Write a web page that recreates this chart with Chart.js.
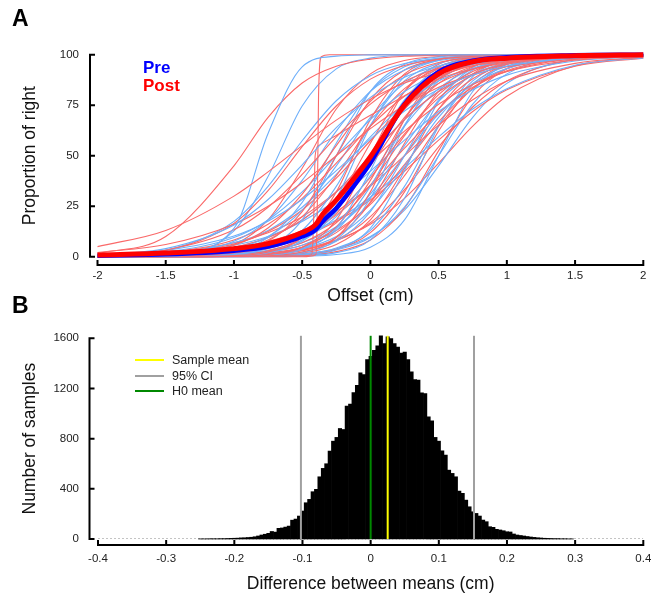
<!DOCTYPE html>
<html>
<head>
<meta charset="utf-8">
<script src="https://cdn.jsdelivr.net/npm/chart.js@4.4.1/dist/chart.umd.min.js"></script>
<style>
  body { margin: 0; background: #fff; }
  #wrap { position: relative; width: 651px; height: 596px; font-family: 'Liberation Sans', Arial, Helvetica, sans-serif; }
  canvas { position: absolute; left: 0; }
  .txt { position: absolute; line-height: 1; white-space: nowrap; }
  .swatch { position: absolute; height: 2px; width: 29px; left: 135px; }
</style>
</head>
<body>
<div id="wrap">
  <canvas id="chartA" width="651" height="308" style="top:0"></canvas>
  <canvas id="chartB" width="651" height="288" style="top:308px"></canvas>

  <div class="txt" style="left:12px; top:6.5px; font-size:23px; font-weight:bold; color:#000">A</div>
  <div class="txt" style="left:12px; top:294px; font-size:23px; font-weight:bold; color:#000">B</div>

  <div class="txt" style="left:143px; top:59px; font-size:17px; font-weight:bold; color:#0000ff">Pre</div>
  <div class="txt" style="left:143px; top:77px; font-size:17px; font-weight:bold; color:#ff0000">Post</div>

  <div class="swatch" style="top:359px; background:#ffff00"></div>
  <div class="swatch" style="top:375px; background:#a0a0a0"></div>
  <div class="swatch" style="top:390px; background:#008800"></div>
  <div class="txt" style="left:172px; top:354px; font-size:12.5px; color:#222">Sample mean</div>
  <div class="txt" style="left:172px; top:369.5px; font-size:12.5px; color:#222">95% CI</div>
  <div class="txt" style="left:172px; top:385px; font-size:12.5px; color:#222">H0 mean</div>
</div>

<script>
// --- Panel A: psychometric curves, values read at these offsets (cm) ---
const xGrid = [-2, -1.5, -1, -0.75, -0.5, -0.25, 0, 0.25, 0.5, 0.75, 1, 1.5, 2];

// proportion of "right" responses (%) for each participant, pre
const preCurves = [
  [0, 0.2, 14, 61, 94, 99.3, 99.9, 100, 100, 100, 100, 100, 100],
  [0.9, 4, 15.7, 28.3, 45.5, 63.9, 78.9, 88.8, 94.4, 97.3, 98.7, 99.7, 99.9],
  [0.9, 3.1, 10.2, 17.5, 28.3, 42.6, 58.2, 72.1, 82.9, 90, 94.4, 98.3, 99.5],
  [0.5, 3.2, 17.5, 34.8, 57.4, 77.2, 89.6, 95.6, 98.2, 99.3, 99.7, 100, 100],
  [0, 0.7, 12.8, 39.7, 74.6, 93, 98.3, 99.6, 99.9, 100, 100, 100, 100],
  [0.2, 1.1, 7.6, 18.2, 37.8, 62.2, 81.8, 92.4, 97.1, 98.9, 99.6, 99.9, 100],
  [0, 0.3, 2.9, 9.5, 26.9, 56.2, 81.8, 94, 98.2, 99.5, 99.9, 100, 100],
  [0.5, 2.3, 9.5, 18.2, 32.1, 50, 67.9, 81.8, 90.5, 95.3, 97.7, 99.5, 99.9],
  [0, 0.1, 1.1, 4.7, 18.2, 50, 81.8, 95.3, 98.9, 99.8, 100, 100, 100],
  [0.1, 0.6, 3.9, 10, 23.1, 45, 69, 85.8, 94.3, 97.8, 99.2, 99.9, 100],
  [0, 0.1, 1.2, 4.3, 13, 34.8, 65.2, 87, 95.7, 98.8, 99.6, 100, 100],
  [0.4, 1.6, 6.9, 13, 24.5, 40.7, 59.3, 75.5, 87, 93.1, 96.8, 99.3, 99.8],
  [0, 0, 0.5, 2, 8.3, 28.9, 64.6, 89.1, 97.3, 99.4, 99.9, 100, 100],
  [0, 0.3, 1.8, 4.7, 11.9, 26.9, 50, 73.1, 88.1, 95.3, 98.2, 99.8, 100],
  [0, 0.1, 0.7, 2.3, 7.6, 22.3, 50, 77.7, 92.4, 97.7, 99.3, 99.9, 100],
  [0.3, 1.1, 4.7, 9.5, 18.2, 32.1, 50, 67.9, 81.8, 90.5, 95.3, 98.9, 99.8],
  [0, 0, 0.2, 0.8, 3.6, 14.2, 42.6, 76.9, 93.7, 98.5, 99.7, 100, 100],
  [0, 0.2, 1.2, 3.2, 8.3, 19.8, 40.1, 64.6, 83.2, 93.1, 97.3, 99.6, 100],
  [0, 0, 0.4, 1.2, 4.3, 13, 34.8, 65.2, 87, 95.7, 98.8, 99.9, 100],
  [0.5, 1.7, 5.7, 10, 17.4, 28.1, 42.3, 57.7, 71.9, 82.6, 89.9, 96.9, 99.1],
  [0, 0, 0.1, 0.5, 2, 8.3, 28.9, 64.6, 89.1, 97.3, 99.4, 100, 100],
  [0, 0.1, 0.8, 2.2, 5.7, 14.2, 31, 55, 76.9, 90, 96.1, 99.5, 99.9],
  [0, 0, 0.2, 0.7, 2.3, 7.6, 22.3, 50, 77.7, 92.4, 97.7, 99.8, 100],
  [0, 0.2, 1.2, 2.9, 6.9, 14.8, 29.4, 50, 70.6, 85.2, 93.1, 98.8, 99.8],
  [0, 0, 0, 0.2, 0.8, 3.6, 14.2, 42.6, 76.9, 93.7, 98.5, 99.9, 100],
  [0, 0.1, 0.6, 1.5, 3.9, 10, 23.1, 45, 69, 85.8, 94.3, 99.2, 99.9],
  [0, 0, 0.1, 0.4, 1.2, 4.3, 13, 34.8, 65.2, 87, 95.7, 99.6, 100],
  [0.3, 1, 3.3, 6, 10.9, 18.2, 29.4, 43.8, 59.3, 73.1, 83.2, 94.8, 98.4],
  [0, 0, 0, 0.1, 0.5, 2, 8.3, 28.9, 64.6, 89.1, 97.3, 99.9, 100],
  [0, 0, 0.1, 0.4, 1.1, 3.3, 9.5, 24.5, 50, 75.5, 90.5, 98.9, 99.9],
  [0, 0, 0, 0, 0.3, 1.1, 4.7, 18.2, 50, 81.8, 95.3, 99.8, 100],
  [0, 0, 0.2, 0.6, 1.5, 3.9, 10, 23.1, 45, 69, 85.8, 97.8, 99.7]
];

// same, post
const postCurves = [
  [5, 13, 30, 42, 55, 67.6, 78, 86, 91, 94.5, 96.6, 98.8, 99.6],
  [1.5, 10, 45, 69, 86, 94.3, 97.8, 99.2, 99.7, 99.9, 100, 100, 100],
  [0.6, 3.2, 16.5, 32.7, 54.5, 74.6, 87.9, 94.7, 97.8, 99.1, 99.6, 99.9, 100],
  [2.1, 6, 16.1, 25, 36.6, 50, 63.4, 75, 83.9, 90, 94, 97.9, 99.3],
  [0.8, 3.3, 13.3, 24.5, 40.7, 59.3, 75.5, 86.7, 93.3, 96.7, 98.4, 99.6, 99.9],
  [0.1, 0.8, 5.7, 14.2, 31, 55, 76.9, 90, 96.1, 98.5, 99.5, 99.9, 100],
  [0, 0.2, 2.3, 7.6, 22.3, 50, 77.7, 92.4, 97.7, 99.3, 99.8, 100, 100],
  [0.5, 2, 8.3, 16.1, 28.9, 46.3, 64.6, 79.4, 89.1, 94.5, 97.3, 99.4, 99.9],
  [0.1, 0.5, 3.2, 8.3, 19.8, 40.1, 64.6, 83.2, 93.1, 97.3, 99, 99.9, 100],
  [0, 0, 0.5, 2.3, 9.5, 32.1, 67.9, 90.5, 97.7, 99.5, 99.9, 100, 100],
  [0.3, 1.5, 6.3, 12.5, 23.1, 38.9, 57.4, 74.1, 85.8, 92.8, 96.4, 99.2, 99.8],
  [0, 0.1, 0.9, 2.9, 9.5, 26.9, 56.2, 81.8, 94, 98.2, 99.5, 100, 100],
  [0, 0.3, 1.8, 4.7, 11.9, 26.9, 50, 73.1, 88.1, 95.3, 98.2, 99.8, 100],
  [0.3, 1.1, 4.7, 9.5, 18.2, 32.1, 50, 67.9, 81.8, 90.5, 95.3, 98.9, 99.8],
  [0, 0, 0.3, 1.1, 4.7, 18.2, 50, 81.8, 95.3, 98.9, 99.8, 100, 100],
  [0, 0.2, 1.5, 3.9, 10, 23.1, 45, 69, 85.8, 94.3, 97.8, 99.7, 100],
  [0.6, 2, 6.9, 11.9, 19.8, 32.1, 46.9, 62.2, 75.5, 85.2, 91.7, 97.3, 99.3],
  [0, 0, 0.4, 1.4, 4.7, 14.8, 37.8, 67.9, 88.1, 96.3, 98.9, 99.9, 100],
  [0.1, 0.3, 2, 4.3, 10, 21.4, 39.2, 60.8, 78.6, 90, 95.7, 99.2, 99.9],
  [0, 0, 0.1, 0.5, 2.3, 9.5, 32.1, 67.9, 90.5, 97.7, 99.5, 100, 100],
  [0, 0.1, 1, 2.7, 6.9, 16.8, 35.4, 59.9, 80.2, 91.7, 96.8, 99.6, 99.9],
  [0.1, 0.6, 2.7, 5.5, 10.9, 20.6, 35.4, 53.7, 71.1, 83.9, 91.7, 98, 99.6],
  [0, 0, 0.3, 0.9, 2.9, 9.5, 26.9, 56.2, 81.8, 94, 98.2, 99.9, 100],
  [0, 0.1, 0.7, 1.8, 4.7, 11.9, 26.9, 50, 73.1, 88.1, 95.3, 99.3, 99.9],
  [0.4, 1.2, 4.3, 7.6, 13, 22.3, 34.9, 50, 65.1, 77.7, 87, 95.7, 98.8],
  [0, 0, 0.2, 0.5, 1.8, 6, 18.2, 43.8, 73.1, 90.5, 97.1, 99.8, 100],
  [0, 0.2, 1, 2.4, 5.7, 13, 25.9, 45.6, 66.8, 83.2, 92.1, 98.5, 99.7],
  [0, 0.1, 0.5, 1.2, 3.2, 8.3, 19.8, 40.1, 64.6, 83.2, 93.1, 99, 99.9],
  [0.3, 0.9, 3.2, 5.7, 10, 17.4, 28.1, 42.3, 57.7, 71.9, 82.6, 94.3, 98.3],
  [0, 0, 0.1, 0.3, 1.1, 3.7, 11.9, 32.1, 62.2, 85.2, 95.3, 99.6, 100],
  [0, 0.1, 0.6, 1.5, 3.6, 7.9, 16.8, 33.2, 54.4, 74.1, 87, 97.6, 99.6],
  [0, 0, 0.1, 0.2, 0.7, 2.5, 8.3, 24, 52.5, 79.4, 93.1, 99.4, 100],
  [0, 0.5, 6, 18.2, 43.8, 73.1, 90.5, 97.1, 99.1, 99.8, 100, 100, 100],
  [0.1, 0.2, 1, 2, 4.1, 8.3, 16.1, 28.9, 46.3, 64.6, 79.4, 94.5, 98.7]
];

// two post curves with a near-vertical step need their own offsets
const postStepX = [-2, -0.5, -0.4, -0.39, -0.38, -0.36, -0.3, 0.5, 2];
const postStepY = [0, 0, 1, 20, 80, 99, 100, 100, 100];
const postStep2X = [-2, -0.5, -0.43, -0.415, -0.405, -0.38, -0.25, 0, 0.5, 1, 1.5, 2];
const postStep2Y = [0, 0.5, 1, 20, 50, 55, 60, 70, 88, 96, 99, 100];

// group means
const meanX = [-2, -1.5, -1, -0.75, -0.5, -0.4, -0.35, -0.25, -0.1, 0, 0.25, 0.5, 0.75, 1, 1.5, 2];
const preMean = [0.5, 1.2, 3, 5, 10, 13.5, 17.5, 24, 37, 46.5, 75.5, 91.5, 97, 98.7, 99.7, 100];
const postMean = [0.8, 1.8, 4, 6.5, 12, 16, 21, 28, 40.5, 49.5, 75, 90.5, 96.5, 98.3, 99.5, 100];

// --- Panel B: bootstrap distribution of the difference between means ---
const diffBinStart = -0.25;   // centre of the first bin (cm)
const diffBinWidth = 0.005;
const diffCounts = [
  1, 1, 1, 2, 2, 2, 3, 3, 4, 5,
  6, 7, 9, 10, 12, 14, 18, 24, 32, 38,
  45, 60, 55, 85, 88, 95, 103, 150, 159, 183,
  223, 289, 316, 377, 396, 496, 563, 600, 701, 780,
  810, 881, 873, 1059, 1075, 1168, 1226, 1324, 1311, 1431,
  1457, 1505, 1539, 1619, 1558, 1611, 1598, 1558, 1531, 1483,
  1491, 1431, 1332, 1271, 1266, 1165, 1160, 974, 942, 810,
  780, 703, 669, 549, 523, 496, 382, 364, 310, 257,
  217, 204, 183, 151, 138, 98, 93, 77, 72, 66,
  58, 56, 40, 32, 28, 24, 20, 16, 13, 10,
  8, 6, 5, 4, 3, 3, 2, 2, 1, 1
];
const sampleMean = 0.025;
const ciLow = -0.1023;
const ciHigh = 0.1516;
const h0Mean = 0;
const markerTop = 1620;

// --- look ---
const FONT = "'Liberation Sans', Arial, Helvetica, sans-serif";
Chart.defaults.font.family = FONT;
Chart.defaults.color = '#222';
const preColor = 'rgb(110,175,250)';
const postColor = 'rgb(250,105,105)';

// axes drawn detached from the plot, ticks pointing inwards
const detachedAxes = {
  id: 'detachedAxes',
  afterDraw(chart, args, opts) {
    const { ctx, chartArea: area } = chart;
    const xs = chart.scales.x, ys = chart.scales.y;
    const axisX = area.left - opts.gapY;
    const axisY = area.bottom + opts.gapX;
    ctx.save();
    ctx.strokeStyle = '#000';
    ctx.lineWidth = 2;
    ctx.beginPath();
    const yTop = ys.getPixelForValue(ys.max), yBot = ys.getPixelForValue(ys.min);
    ctx.moveTo(axisX, yTop - 1); ctx.lineTo(axisX, yBot + 1);
    ys.ticks.forEach(t => {
      const p = ys.getPixelForValue(t.value);
      ctx.moveTo(axisX, p); ctx.lineTo(axisX + 5, p);
    });
    const xL = xs.getPixelForValue(xs.min), xR = xs.getPixelForValue(xs.max);
    ctx.moveTo(xL - 1, axisY); ctx.lineTo(xR + 1, axisY);
    xs.ticks.forEach(t => {
      const p = xs.getPixelForValue(t.value);
      ctx.moveTo(p, axisY); ctx.lineTo(p, axisY - 5);
    });
    ctx.stroke();
    ctx.restore();
  }
};

function toPoints(xs, ys) { return xs.map((x, i) => ({ x: x, y: ys[i] })); }

function curveSet(points, color, width) {
  return {
    type: 'line', data: points, borderColor: color, borderWidth: width,
    pointRadius: 0, fill: false, cubicInterpolationMode: 'monotone', clip: false
  };
}

const tickFont = { size: 11.5 };
const titleFont = { size: 17.5 };
const plainNumber = v => String(parseFloat(Number(v).toFixed(3)));

// ---------- Chart A ----------
const setsA = [
  curveSet(toPoints(meanX, postMean), '#ff0000', 5),
  curveSet(toPoints(meanX, preMean), '#0000ff', 4.5)
];
const nCurves = Math.max(preCurves.length, postCurves.length);
for (let i = 0; i < nCurves; i++) {
  if (postCurves[i]) setsA.push(curveSet(toPoints(xGrid, postCurves[i]), postColor, 1.1));
  if (preCurves[i]) setsA.push(curveSet(toPoints(xGrid, preCurves[i]), preColor, 1.1));
}
setsA.splice(6, 0, curveSet(toPoints(postStepX, postStepY), postColor, 1.1));
setsA.splice(20, 0, curveSet(toPoints(postStep2X, postStep2Y), postColor, 1.1));

new Chart(document.getElementById('chartA'), {
  type: 'line',
  data: { datasets: setsA },
  options: {
    responsive: false, animation: false, events: [],
    layout: { padding: { left: 0, right: 7.7, top: 54.7, bottom: 0 } },
    plugins: { legend: { display: false }, tooltip: { enabled: false }, detachedAxes: { gapX: 8.3, gapY: 7.5 } },
    scales: {
      x: {
        type: 'linear', min: -2, max: 2,
        ticks: { stepSize: 0.5, padding: 12, font: tickFont, maxRotation: 0, autoSkip: false, callback: plainNumber },
        grid: { display: false, drawTicks: false }, border: { display: false },
        title: { display: true, text: 'Offset (cm)', font: titleFont, color: '#111', padding: { top: 0, bottom: 1.5 } },
        afterFit(s) { s.height = 51.3; s.paddingLeft = 0; s.paddingRight = 0; }
      },
      y: {
        min: 0, max: 100,
        ticks: { stepSize: 25, padding: 18.5, font: tickFont },
        grid: { display: false, drawTicks: false }, border: { display: false },
        title: { display: true, text: 'Proportion of right', font: titleFont, color: '#111', padding: { top: 20, bottom: 0 } },
        afterFit(s) { s.width = 97.5; s.paddingTop = 0; s.paddingBottom = 0; }
      }
    }
  },
  plugins: [detachedAxes]
});

// ---------- Chart B ----------
const bars = diffCounts.map((c, i) => ({ x: Math.round((diffBinStart + i * diffBinWidth) * 1000) / 1000, y: c }));

function marker(x, color) {
  return {
    type: 'line', data: [{ x: x, y: 0 }, { x: x, y: markerTop }],
    borderColor: color, borderWidth: 2, pointRadius: 0, clip: false
  };
}

new Chart(document.getElementById('chartB'), {
  type: 'bar',
  data: {
    datasets: [
      marker(sampleMean, '#ffff00'),
      marker(h0Mean, '#008800'),
      marker(ciLow, '#a0a0a0'),
      marker(ciHigh, '#a0a0a0'),
      {
        type: 'bar', data: bars, backgroundColor: '#000', borderWidth: 0,
        barPercentage: 1, categoryPercentage: 1, clip: false
      },
      {
        type: 'line', data: [{ x: -0.4, y: 0 }, { x: 0.4, y: 0 }],
        borderColor: '#888', borderWidth: 1, borderDash: [2, 2], pointRadius: 0
      }
    ]
  },
  options: {
    responsive: false, animation: false, events: [],
    layout: { padding: { left: 0, right: 7.7, top: 30.3, bottom: 0 } },
    plugins: { legend: { display: false }, tooltip: { enabled: false }, detachedAxes: { gapX: 6, gapY: 8.5 } },
    scales: {
      x: {
        type: 'linear', min: -0.4, max: 0.4, offset: false,
        ticks: { stepSize: 0.1, padding: 13, font: tickFont, maxRotation: 0, autoSkip: false, callback: plainNumber },
        grid: { display: false, drawTicks: false }, border: { display: false },
        title: { display: true, text: 'Difference between means (cm)', font: titleFont, color: '#111', padding: { top: 0, bottom: 1 } },
        afterFit(s) { s.height = 57; s.paddingLeft = 0; s.paddingRight = 0; }
      },
      y: {
        min: 0, max: 1600,
        ticks: { stepSize: 400, padding: 19, font: tickFont, callback: v => String(v) },
        grid: { display: false, drawTicks: false }, border: { display: false },
        title: { display: true, text: 'Number of samples', font: titleFont, color: '#111', padding: { top: 20, bottom: 0 } },
        afterFit(s) { s.width = 98; s.paddingTop = 0; s.paddingBottom = 0; }
      }
    }
  },
  plugins: [detachedAxes]
});
</script>
</body>
</html>
